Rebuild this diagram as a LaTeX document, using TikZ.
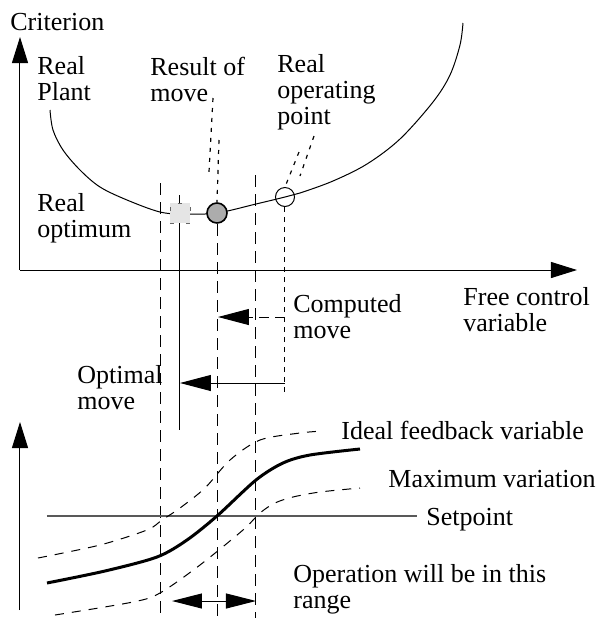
\documentclass[tikz,border=0pt]{standalone}
\usepackage{fontspec}
\setmainfont{Liberation Serif}
\usetikzlibrary{arrows.meta}
\tikzset{
  lbl/.style={anchor=base west, inner sep=0pt, align=left, font=\fontsize{13}{13}\selectfont},
  axis/.style={line width=0.5pt, -{Triangle[length=13pt,width=8pt]}},
  movearrow/.style={line width=0.5pt, -{Triangle[length=15.5pt,width=8pt]}},
  vdash/.style={line width=0.5pt, dash pattern=on 6pt off 3.5pt},
  sdash/.style={line width=0.5pt, dash pattern=on 2.5pt off 2.5pt},
  leader/.style={line width=0.6pt, dash pattern=on 2pt off 3pt},
  bdash/.style={line width=0.5pt, dash pattern=on 4.5pt off 4pt},
}
\begin{document}
\begin{tikzpicture}[x=0.5pt,y=-0.5pt]
\useasboundingbox (0,0) rectangle (601,618);
% axes
\coordinate (O) at (20,270);
\coordinate (Ytop) at (20,37);
\coordinate (Xend) at (577,270);
\draw[axis] (O) -- (Ytop);
\draw[axis] (O) -- (Xend);
\coordinate (Y2b) at (20,610);
\coordinate (Y2t) at (20,422);
\draw[axis] (Y2b) -- (Y2t);
% criterion curve
\draw[line width=0.5pt] plot[smooth, tension=0.55] coordinates {(50,110) (53,130) (63,150) (80,170) (100,187) (127,200) (160,212) (185,214) (217,213) (256,204) (285,197) (300,193) (333,181) (367,164) (400,139) (433,102) (450,75) (460,45) (463,23)};
% vertical dashed lines
\coordinate (d1t) at (161,183); \coordinate (d1b) at (161,618);
\coordinate (d2t) at (218,224); \coordinate (d2b) at (218,618);
\coordinate (d3t) at (256,175); \coordinate (d3b) at (256,618);
\draw[vdash] (d1t) -- (d1b);
\draw[vdash] (d2t) -- (d2b);
\draw[vdash] (d3t) -- (d3b);
% optimal solid line
\coordinate (s1t) at (180,195); \coordinate (s1b) at (180,430);
\draw[line width=0.5pt] (s1t) -- (s1b);
% markers
\node[draw=gray!80!black, dash pattern=on 2pt off 6pt, fill=gray!20, minimum size=10pt, inner sep=0pt] (sq) at (180,213) {};
\node[circle, draw, line width=0.8pt, fill=gray!65, minimum size=10pt, inner sep=0pt] (res) at (217,213) {};
\node[circle, draw, line width=0.5pt, minimum size=9.5pt, inner sep=0pt] (rop) at (285,197) {};
% operating dotted vertical
\coordinate (opb) at (285,393);
\draw[sdash] (rop.south) -- (opb);
% leaders
\coordinate (la1) at (213,98); \coordinate (la2) at (209,172);
\coordinate (lb1) at (219,140);
\draw[leader] (la1) -- (la2);
\draw[leader] (lb1) -- (res.north);
\coordinate (lc1) at (314,136); \coordinate (lc2) at (300,176);
\coordinate (ld1) at (299,152);
\draw[leader] (lc1) -- (lc2);
\draw[leader] (ld1) -- (rop.north);
% move arrows
\coordinate (cm0) at (285,317); \coordinate (cm1) at (218,317);
\draw[line width=0.5pt, dash pattern=on 5pt off 3pt, -{Triangle[length=15.5pt,width=8pt]}] (cm0) -- (cm1);
\coordinate (om0) at (285,383); \coordinate (om1) at (180,383);
\draw[movearrow] (om0) -- (om1);
% bottom chart
\coordinate (sp0) at (47,516); \coordinate (sp1) at (417,516);
\draw[line width=0.6pt, gray!70!black] (sp0) -- (sp1);
\draw[line width=1.5pt] plot[smooth, tension=0.5] coordinates {(47,583) (105,571) (157,557) (187,540) (217,516) (256,480) (283,463) (310,455) (360,449)};
\draw[bdash] plot[smooth, tension=0.5] coordinates {(38,558) (100,545) (147,530) (162,520) (180,508) (205,488) (230,460) (260,440) (300,433) (323,431)};
\draw[bdash] plot[smooth, tension=0.5] coordinates {(55,615) (133,602) (160,593) (200,565) (243,530) (260,513) (275,503) (293,497) (320,492) (360,488)};
\coordinate (ra0) at (172,601); \coordinate (ra1) at (256,601);
\draw[line width=0.5pt, {Triangle[length=15pt,width=7.5pt]}-{Triangle[length=15pt,width=7.5pt]}] (ra0) -- (ra1);
% labels (base = baseline of last line)
\node[lbl] (crit) at (10,30) {Criterion};
\node[lbl] (plant) at (37,100) {Real\\Plant};
\node[lbl] (ropt) at (37,237) {Real\\optimum};
\node[lbl] (resl) at (150,101) {Result of\\move};
\node[lbl] (ropl) at (277,124) {Real\\operating\\point};
\node[lbl] (comp) at (293,338) {Computed\\move};
\node[lbl] (free) at (463,331) {Free control\\variable};
\node[lbl] (optm) at (77,409) {Optimal\\move};
\node[lbl] (ideal) at (341,439) {Ideal feedback variable};
\node[lbl] (maxv) at (388,487) {Maximum variation};
\node[lbl] (setp) at (426,525) {Setpoint};
\node[lbl] (oper) at (293,608) {Operation will be in this\\range};
\end{tikzpicture}
\end{document}
